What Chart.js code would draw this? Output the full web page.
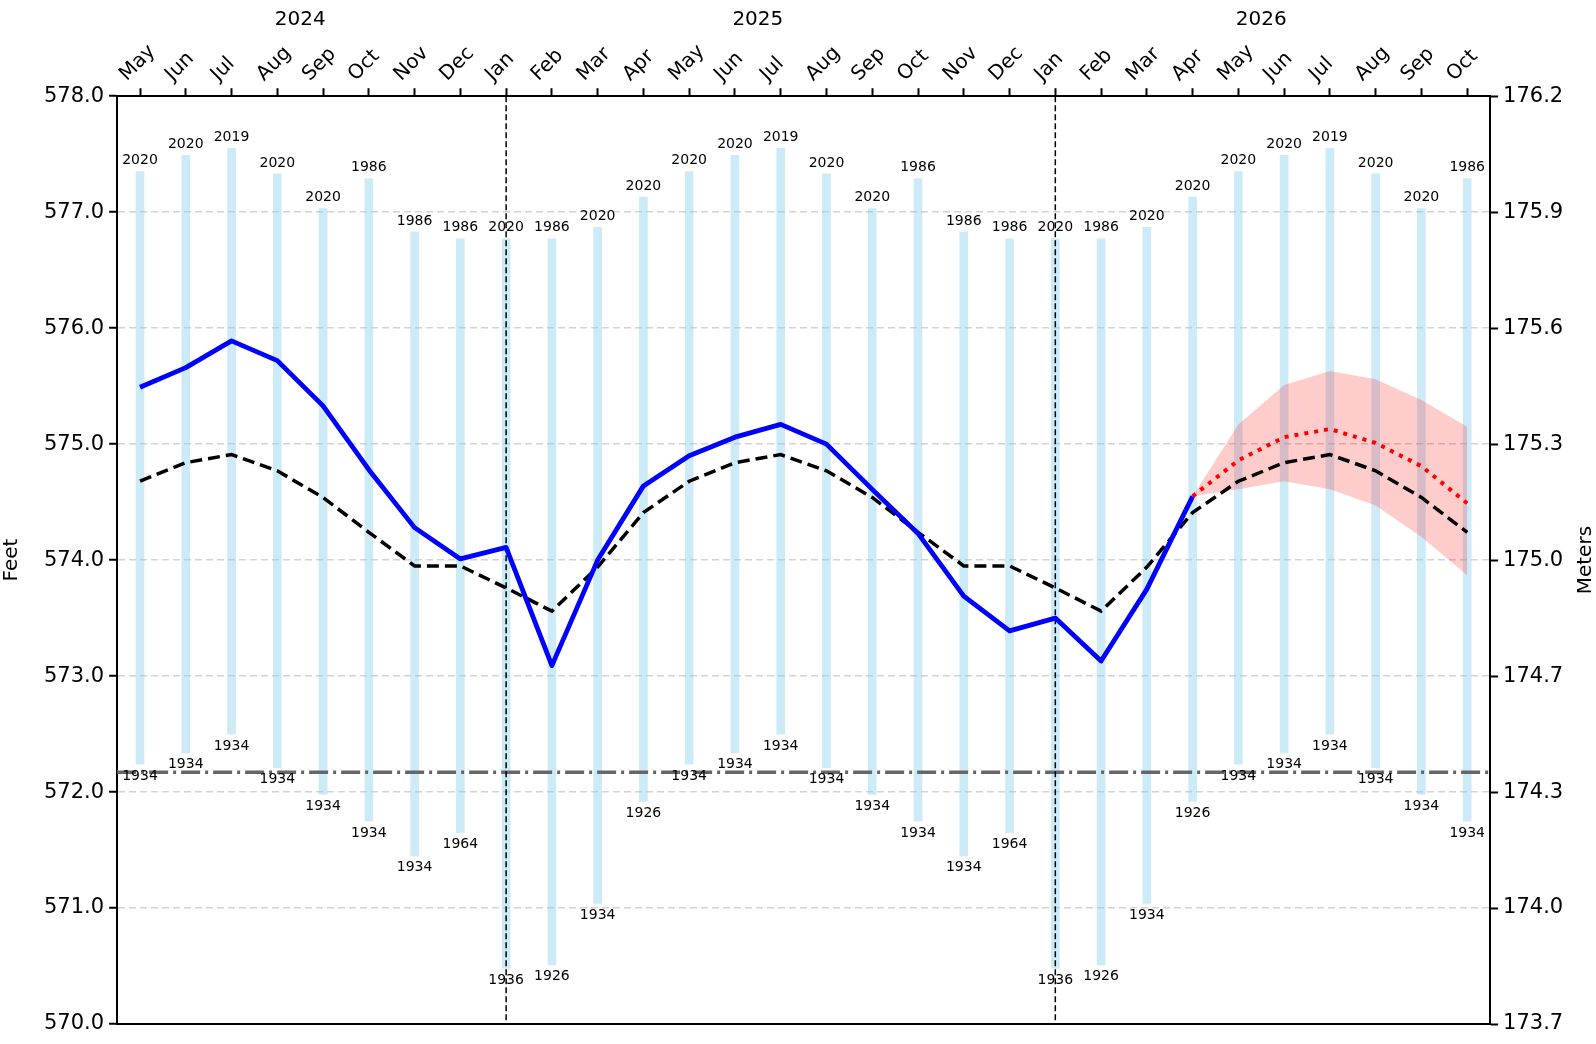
<!DOCTYPE html>
<html><head><meta charset="utf-8">
<script src="https://cdn.jsdelivr.net/npm/chart.js@4.4.1/dist/chart.umd.min.js"></script>
<style>html,body{margin:0;padding:0;background:#fff}#wrap{width:1596px;height:1044px;position:relative}</style>
</head><body><div id="wrap"><canvas id="c"></canvas></div>
<script>
const months = ['May','Jun','Jul','Aug','Sep','Oct','Nov','Dec','Jan','Feb','Mar','Apr','May','Jun','Jul','Aug','Sep','Oct','Nov','Dec','Jan','Feb','Mar','Apr','May','Jun','Jul','Aug','Sep','Oct'];
const yearLabels = ['2024','2025','2026'];
const yearFirstIdx = [0, 8, 20];
const yearLastIdx = [7, 19, 29];
const yearBoundaryIdx = [8, 20];
const lowWaterDatum = 572.17;

const observed = [575.49,575.66,575.89,575.72,575.33,574.78,574.28,574.01,574.11,573.09,574.00,574.64,
  574.90,575.06,575.17,575.00,574.61,574.23,573.69,573.39,573.50,573.13,573.75,574.55,
  null,null,null,null,null,null];
const average = [574.68,574.84,574.91,574.77,574.54,574.24,573.95,573.95,573.76,573.56,573.94,574.41,
  574.68,574.84,574.91,574.77,574.54,574.24,573.95,573.95,573.76,573.56,573.94,574.41,
  574.68,574.84,574.91,574.77,574.54,574.24];
const forecast = [null,null,null,null,null,null,null,null,null,null,null,null,
  null,null,null,null,null,null,null,null,null,null,null,574.55,
  574.86,575.06,575.13,575.01,574.81,574.49];
const forecastHigh = [null,null,null,null,null,null,null,null,null,null,null,null,
  null,null,null,null,null,null,null,null,null,null,null,574.55,
  575.17,575.51,575.63,575.56,575.38,575.15];
const forecastLow = [null,null,null,null,null,null,null,null,null,null,null,null,
  null,null,null,null,null,null,null,null,null,null,null,574.55,
  574.61,574.68,574.61,574.47,574.20,573.87];
const recordHigh = [577.35,577.49,577.55,577.33,577.03,577.29,576.83,576.77,576.77,576.77,576.87,577.13,
  577.35,577.49,577.55,577.33,577.03,577.29,576.83,576.77,576.77,576.77,576.87,577.13,
  577.35,577.49,577.55,577.33,577.03,577.29];
const recordLow = [572.24,572.34,572.50,572.21,571.98,571.75,571.45,571.65,570.48,570.51,571.04,571.92,
  572.24,572.34,572.50,572.21,571.98,571.75,571.45,571.65,570.48,570.51,571.04,571.92,
  572.24,572.34,572.50,572.21,571.98,571.75];
const recordHighYear = ['2020','2020','2019','2020','2020','1986','1986','1986','2020','1986','2020','2020',
  '2020','2020','2019','2020','2020','1986','1986','1986','2020','1986','2020','2020',
  '2020','2020','2019','2020','2020','1986'];
const recordLowYear = ['1934','1934','1934','1934','1934','1934','1934','1964','1936','1926','1934','1926',
  '1934','1934','1934','1934','1934','1934','1934','1964','1936','1926','1934','1926',
  '1934','1934','1934','1934','1934','1934'];

const FONT = '"DejaVu Sans", sans-serif';
const recordRange = recordLow.map((l, i) => [l, recordHigh[i]]);

const overlay = {
  id: 'overlay',
  afterDatasetDraw(chart, args) {
    if (args.index !== 5) return;
    const {ctx, chartArea: a, scales: {x, y}} = chart;
    ctx.save();
    const py = y.getPixelForValue(lowWaterDatum);
    ctx.strokeStyle = '#666666'; ctx.lineWidth = 3.5; ctx.setLineDash([19, 5, 3, 5]);
    ctx.beginPath(); ctx.moveTo(a.left, py); ctx.lineTo(a.right, py); ctx.stroke();
    ctx.setLineDash([]);
    ctx.fillStyle = '#000'; ctx.font = '14px ' + FONT; ctx.textAlign = 'center';
    for (let i = 0; i < months.length; i++) {
      const px = x.getPixelForValue(i);
      ctx.textBaseline = 'bottom';
      ctx.fillText(recordHighYear[i], px, y.getPixelForValue(recordHigh[i]) - 4);
      ctx.textBaseline = 'top';
      ctx.fillText(recordLowYear[i], px, y.getPixelForValue(recordLow[i]) + 5);
    }
    ctx.strokeStyle = '#000'; ctx.lineWidth = 1.5; ctx.setLineDash([6, 3]);
    for (const idx of yearBoundaryIdx) {
      const px = x.getPixelForValue(idx);
      ctx.beginPath(); ctx.moveTo(px, a.top); ctx.lineTo(px, a.bottom); ctx.stroke();
    }
    ctx.restore();
  },
  afterDraw(chart) {
    const {ctx, chartArea: a, scales: {x, yR}} = chart;
    ctx.save();
    ctx.fillStyle = '#000'; ctx.font = '20px ' + FONT; ctx.textAlign = 'center'; ctx.textBaseline = 'middle';
    for (let k = 0; k < yearLabels.length; k++) {
      const px = (x.getPixelForValue(yearFirstIdx[k]) + x.getPixelForValue(yearLastIdx[k])) / 2;
      ctx.fillText(yearLabels[k], px, 20);
    }
    ctx.translate(yR.right - 10, (a.top + a.bottom) / 2);
    ctx.rotate(-Math.PI / 2);
    ctx.fillText('Meters', 0, 0);
    ctx.restore();
  }
};

const gridColor = (c) => (c.tick && (c.tick.value === 570 || c.tick.value === 578)) ? 'rgba(0,0,0,0)' : '#d3d3d3';

new Chart(document.getElementById('c'), {
  type: 'bar',
  data: {
    labels: months,
    datasets: [
      {type: 'line', data: observed, borderColor: '#0000ff', borderWidth: 4.8, pointRadius: 0, order: 1, spanGaps: false, borderJoinStyle: 'round'},
      {type: 'line', data: forecast, borderColor: '#ff0000', borderWidth: 4, borderDash: [4, 6], pointRadius: 0, order: 0},
      {type: 'line', data: average, borderColor: '#000000', borderWidth: 3.5, borderDash: [12, 6], pointRadius: 0, order: 2},
      {type: 'line', data: forecastHigh, borderWidth: 0, borderColor: 'rgba(0,0,0,0)', pointRadius: 0, fill: '+1', backgroundColor: 'rgba(255,0,0,0.2)', order: 5},
      {type: 'line', data: forecastLow, borderWidth: 0, borderColor: 'rgba(0,0,0,0)', pointRadius: 0, fill: false, order: 6},
      {type: 'bar', data: recordRange, backgroundColor: 'rgba(135,206,235,0.42)', barThickness: 8, order: 10, grouped: false}
    ]
  },
  options: {
    responsive: true, maintainAspectRatio: false, animation: false,
    layout: {padding: {top: 38, left: 0, right: 0, bottom: 20}},
    plugins: {legend: {display: false}, tooltip: {enabled: false}},
    scales: {
      x: {type: 'category', position: 'top', offset: true,
        ticks: {maxRotation: 45, minRotation: 45, autoSkip: false, color: '#000', font: {size: 20, family: FONT}, padding: 2},
        grid: {display: true, offset: false, drawOnChartArea: false, drawTicks: true, tickLength: 8, tickColor: '#000', tickWidth: 2},
        border: {display: true, color: '#000', width: 2}},
      xb: {type: 'category', position: 'bottom', offset: true,
        ticks: {display: false}, grid: {display: false, drawTicks: false, offset: false},
        border: {display: true, color: '#000', width: 2}},
      y: {position: 'left', min: 570, max: 578,
        ticks: {stepSize: 1, callback: v => v.toFixed(1), color: '#000', font: {size: 21, family: FONT}, padding: 5},
        grid: {color: gridColor, lineWidth: 1.5, tickColor: '#000', tickLength: 8, tickWidth: 2},
        border: {color: '#000', width: 2, dash: [7, 4]},
        title: {display: true, text: 'Feet', color: '#000', font: {size: 20, family: FONT}, padding: {top: 0, bottom: 15}}},
      yR: {position: 'right', min: 570, max: 578,
        ticks: {stepSize: 1, callback: v => (v * 0.3048).toFixed(1), color: '#000', font: {size: 21, family: FONT}, padding: 5},
        grid: {drawOnChartArea: false, tickColor: '#000', tickLength: 8, tickWidth: 2},
        border: {color: '#000', width: 2},
        title: {display: true, text: 'Meters', color: 'rgba(0,0,0,0)', font: {size: 19, family: FONT}, padding: {top: 5, bottom: 0}}}
    }
  },
  plugins: [overlay]
});
</script></body></html>
